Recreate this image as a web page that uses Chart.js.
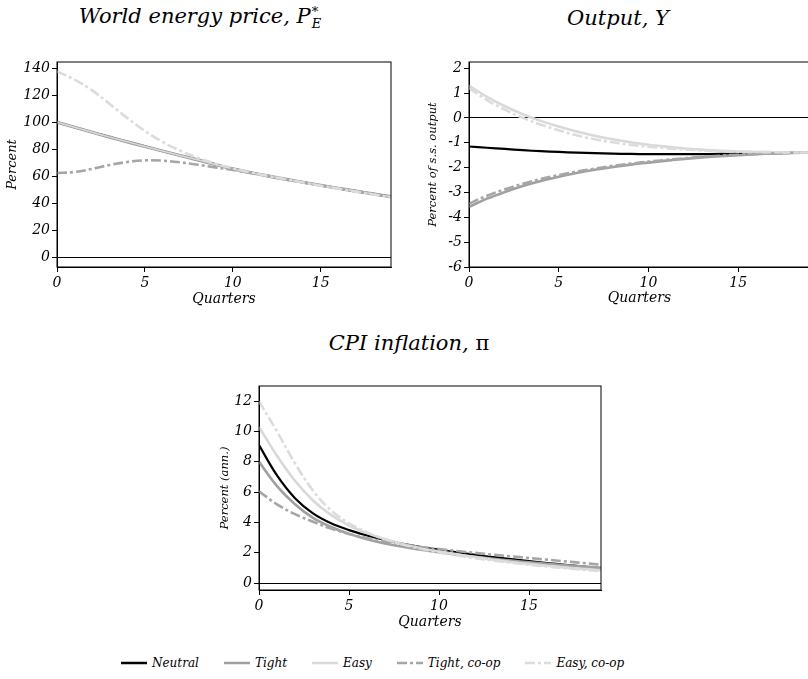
<!DOCTYPE html>
<html>
<head>
<meta charset="utf-8">
<script src="https://cdn.jsdelivr.net/npm/chart.js@4.4.0/dist/chart.umd.min.js"></script>
<style>
  html, body { margin: 0; padding: 0; background: #fff; }
  body { position: relative; width: 808px; height: 679px; overflow: hidden; font-family: "DejaVu Serif", serif; font-style: italic; color: #000; }
  .title { position: absolute; font-size: 21px; line-height: 24px; white-space: nowrap; transform: translateX(-50%); }
  .title .ss { display: inline-block; vertical-align: -5px; line-height: 12px; font-size: 13px; margin-left: 1px; }
  .title .up { font-style: normal; }
  canvas { position: absolute; }
  #legend { position: absolute; left: 121px; top: 655px; display: flex; align-items: center; font-size: 12px; line-height: 16px; }
  #legend .item { display: flex; align-items: center; margin-right: 25px; }
  #legend svg { margin-right: 5px; }
</style>
</head>
<body>
<div class="title" style="left:200px; top:4px;">World energy price, P<span class="ss">*<br>E</span></div>
<div class="title" style="left:618px; top:6px;">Output, Y</div>
<div class="title" style="left:409px; top:331px;">CPI inflation, <span class="up">π</span></div>

<canvas id="energyChart" width="400" height="260" style="left:0px; top:50px;"></canvas>
<canvas id="outputChart" width="420" height="260" style="left:400px; top:50px;"></canvas>
<canvas id="inflationChart" width="420" height="265" style="left:190px; top:375px;"></canvas>
<div id="legend"></div>

<script>
// quarters after the shock
const quarters = [0, 1, 2, 3, 4, 5, 6, 7, 8, 9, 10, 11, 12, 13, 14, 15, 16, 17, 18, 19];
const seriesNames = ['Neutral', 'Tight', 'Easy', 'Tight, co-op', 'Easy, co-op'];

const quarterTicks = [0, 5, 10, 15];
const energyTicks = [0, 20, 40, 60, 80, 100, 120, 140];
const outputTicks = [-6, -5, -4, -3, -2, -1, 0, 1, 2];
const inflationTicks = [0, 2, 4, 6, 8, 10, 12];

// World energy price, percent
const energyNeutral = [100, 96.3, 92.6, 89, 85.5, 82.1, 78.7, 75.4, 72.2, 68.8, 65.5, 62.8, 60.3, 57.9, 55.6, 53.4, 51.2, 49.1, 47, 45];
const energyTight = [100, 96.3, 92.6, 89, 85.5, 82.1, 78.7, 75.4, 72.2, 68.8, 65.5, 62.8, 60.3, 57.9, 55.6, 53.4, 51.2, 49.1, 47, 45];
const energyEasy = [100, 96.3, 92.6, 89, 85.5, 82.1, 78.7, 75.4, 72.2, 68.8, 65.5, 62.8, 60.3, 57.9, 55.6, 53.4, 51.2, 49.1, 47, 45];
const energyTightCoop = [62.5, 63.2, 65.5, 68.4, 70.6, 71.8, 71.6, 70.4, 68.6, 66.6, 64.8, 62.4, 60, 57.7, 55.4, 53.2, 51, 48.9, 46.8, 44.8];
const energyEasyCoop = [137.5, 131.5, 123.5, 113.5, 103, 93.5, 85.5, 79, 73.8, 69.4, 65.8, 62.9, 60.3, 57.8, 55.4, 53.1, 50.9, 48.7, 46.6, 44.5];

// Output, percent of steady-state output
const outputNeutral = [-1.15, -1.2, -1.25, -1.3, -1.34, -1.37, -1.4, -1.42, -1.44, -1.45, -1.46, -1.46, -1.46, -1.46, -1.45, -1.44, -1.43, -1.42, -1.41, -1.4];
const outputTight = [-3.58, -3.25, -2.98, -2.74, -2.54, -2.37, -2.22, -2.09, -1.98, -1.88, -1.8, -1.72, -1.65, -1.59, -1.54, -1.5, -1.46, -1.43, -1.41, -1.39];
const outputEasy = [1.3, 0.85, 0.47, 0.15, -0.12, -0.35, -0.55, -0.72, -0.86, -0.98, -1.08, -1.16, -1.23, -1.28, -1.32, -1.35, -1.37, -1.38, -1.39, -1.39];
const outputTightCoop = [-3.45, -3.13, -2.87, -2.65, -2.46, -2.3, -2.16, -2.04, -1.93, -1.84, -1.76, -1.69, -1.63, -1.57, -1.52, -1.48, -1.45, -1.42, -1.4, -1.38];
const outputEasyCoop = [1.2, 0.72, 0.33, 0.0, -0.27, -0.5, -0.7, -0.86, -0.98, -1.08, -1.16, -1.22, -1.27, -1.31, -1.34, -1.36, -1.37, -1.38, -1.39, -1.39];

// CPI inflation, percent annualised
const inflationNeutral = [9.1, 7.1, 5.6, 4.6, 3.95, 3.5, 3.15, 2.85, 2.6, 2.38, 2.2, 2.03, 1.87, 1.72, 1.58, 1.45, 1.33, 1.21, 1.1, 1.0];
const inflationTight = [8.0, 6.4, 5.2, 4.3, 3.7, 3.25, 2.9, 2.62, 2.4, 2.2, 2.03, 1.88, 1.74, 1.61, 1.49, 1.38, 1.28, 1.18, 1.1, 1.02];
const inflationEasy = [10.3, 8.4, 6.75, 5.45, 4.5, 3.8, 3.3, 2.9, 2.58, 2.32, 2.1, 1.9, 1.72, 1.55, 1.4, 1.27, 1.15, 1.04, 0.94, 0.86];
const inflationTightCoop = [6.05, 5.2, 4.55, 4.05, 3.6, 3.25, 2.97, 2.74, 2.55, 2.39, 2.25, 2.12, 2.0, 1.88, 1.77, 1.66, 1.55, 1.44, 1.33, 1.22];
const inflationEasyCoop = [12.0, 10.0, 7.9, 6.1, 4.8, 3.95, 3.35, 2.9, 2.55, 2.27, 2.03, 1.83, 1.65, 1.49, 1.35, 1.22, 1.1, 0.99, 0.89, 0.8];

// line styles (same order as seriesNames)
const lineColors = ['#000000', '#a0a0a0', '#d9d9d9', '#a6a6a6', '#dcdcdc'];
const lineDashes = [[], [], [], [10, 3, 3, 3], [10, 3, 3, 3]];
const lineWidths = [2.2, 2.6, 2.6, 2.6, 2.6];

const fontFamily = '"DejaVu Serif", serif';

// box around the plot area
const framePlugin = {
  id: 'frame',
  afterDatasetsDraw(chart) {
    const { ctx, chartArea: a } = chart;
    ctx.save();
    ctx.strokeStyle = '#000';
    ctx.lineWidth = 1;
    ctx.strokeRect(a.left, a.top, a.right - a.left, a.bottom - a.top);
    ctx.restore();
  }
};

function drawPanel(canvasId, series, o) {
  const widths = o.widths || lineWidths;
  const datasets = series.map((vals, i) => ({
    label: seriesNames[i],
    data: quarters.map((q, j) => ({ x: q, y: vals[j] })),
    borderColor: lineColors[i],
    borderDash: lineDashes[i],
    borderWidth: widths[i],
    borderCapStyle: 'butt',
    pointRadius: 0,
    tension: 0.35,
    fill: false,
    order: -i // later series on top
  }));

  new Chart(document.getElementById(canvasId), {
    type: 'line',
    data: { datasets },
    plugins: [framePlugin],
    options: {
      responsive: false,
      animation: false,
      layout: { padding: { left: 0, right: o.padRight, top: o.padTop, bottom: 0 } },
      plugins: { legend: { display: false }, tooltip: { enabled: false } },
      scales: {
        x: {
          type: 'linear',
          min: 0,
          max: 19,
          afterBuildTicks: a => { a.ticks = quarterTicks.map(v => ({ value: v })); },
          afterFit: a => { a.height = o.xHeight; },
          grid: { drawOnChartArea: false, color: '#000', tickColor: '#000', tickLength: 5 },
          border: { color: '#000', width: 1 },
          ticks: { color: '#000', padding: 3, maxRotation: 0, font: { family: fontFamily, style: 'italic', size: 14 } },
          title: {
            display: true, text: 'Quarters', color: '#000',
            font: { family: fontFamily, style: 'italic', size: 14 },
            padding: { top: 0, bottom: o.xTitlePad }
          }
        },
        y: {
          type: 'linear',
          min: o.yMin,
          max: o.yMax,
          afterBuildTicks: a => { a.ticks = o.yTicks.map(v => ({ value: v })); },
          afterFit: a => { a.width = o.yWidth; },
          grid: {
            color: c => (c.tick && c.tick.value === 0 ? '#000' : 'rgba(0,0,0,0)'),
            tickColor: '#000',
            tickLength: 5,
            lineWidth: 1
          },
          border: { color: '#000', width: 1 },
          ticks: { color: '#000', padding: 2, font: { family: fontFamily, style: 'italic', size: 14 } },
          title: {
            display: true, text: o.yTitle, color: '#000',
            font: { family: fontFamily, style: 'italic', size: o.yTitleSize },
            padding: { top: o.yTitlePad, bottom: 0 }
          }
        }
      }
    }
  });
}

drawPanel('energyChart',
  [energyNeutral, energyTight, energyEasy, energyTightCoop, energyEasyCoop],
  { yMin: -7, yMax: 144.5, yTicks: energyTicks, yWidth: 57, padRight: 9, padTop: 12, xHeight: 43,
    xTitlePad: 2.5, yTitle: 'Percent', yTitleSize: 13, yTitlePad: 5,
    widths: [2.2, 3.2, 1.5, 2.6, 2.6] });

drawPanel('outputChart',
  [outputNeutral, outputTight, outputEasy, outputTightCoop, outputEasyCoop],
  { yMin: -6, yMax: 2.25, yTicks: outputTicks, yWidth: 69, padRight: 10, padTop: 12, xHeight: 43,
    xTitlePad: 3.5, yTitle: 'Percent of s.s. output', yTitleSize: 11.5, yTitlePad: 26 });

drawPanel('inflationChart',
  [inflationNeutral, inflationTight, inflationEasy, inflationTightCoop, inflationEasyCoop],
  { yMin: -0.45, yMax: 13, yTicks: inflationTicks, yWidth: 69, padRight: 9, padTop: 11, xHeight: 50,
    xTitlePad: 9.5, yTitle: 'Percent (ann.)', yTitleSize: 11.5, yTitlePad: 28 });

// shared legend
const legend = document.getElementById('legend');
seriesNames.forEach((name, i) => {
  const item = document.createElement('div');
  item.className = 'item';
  const dash = lineDashes[i].length ? `stroke-dasharray="${lineDashes[i].join(' ')}"` : '';
  item.innerHTML = `<svg width="26" height="6"><line x1="0" y1="3" x2="26" y2="3" stroke="${lineColors[i]}" stroke-width="2.5" ${dash}/></svg><span>${name}</span>`;
  legend.appendChild(item);
});
</script>
</body>
</html>
